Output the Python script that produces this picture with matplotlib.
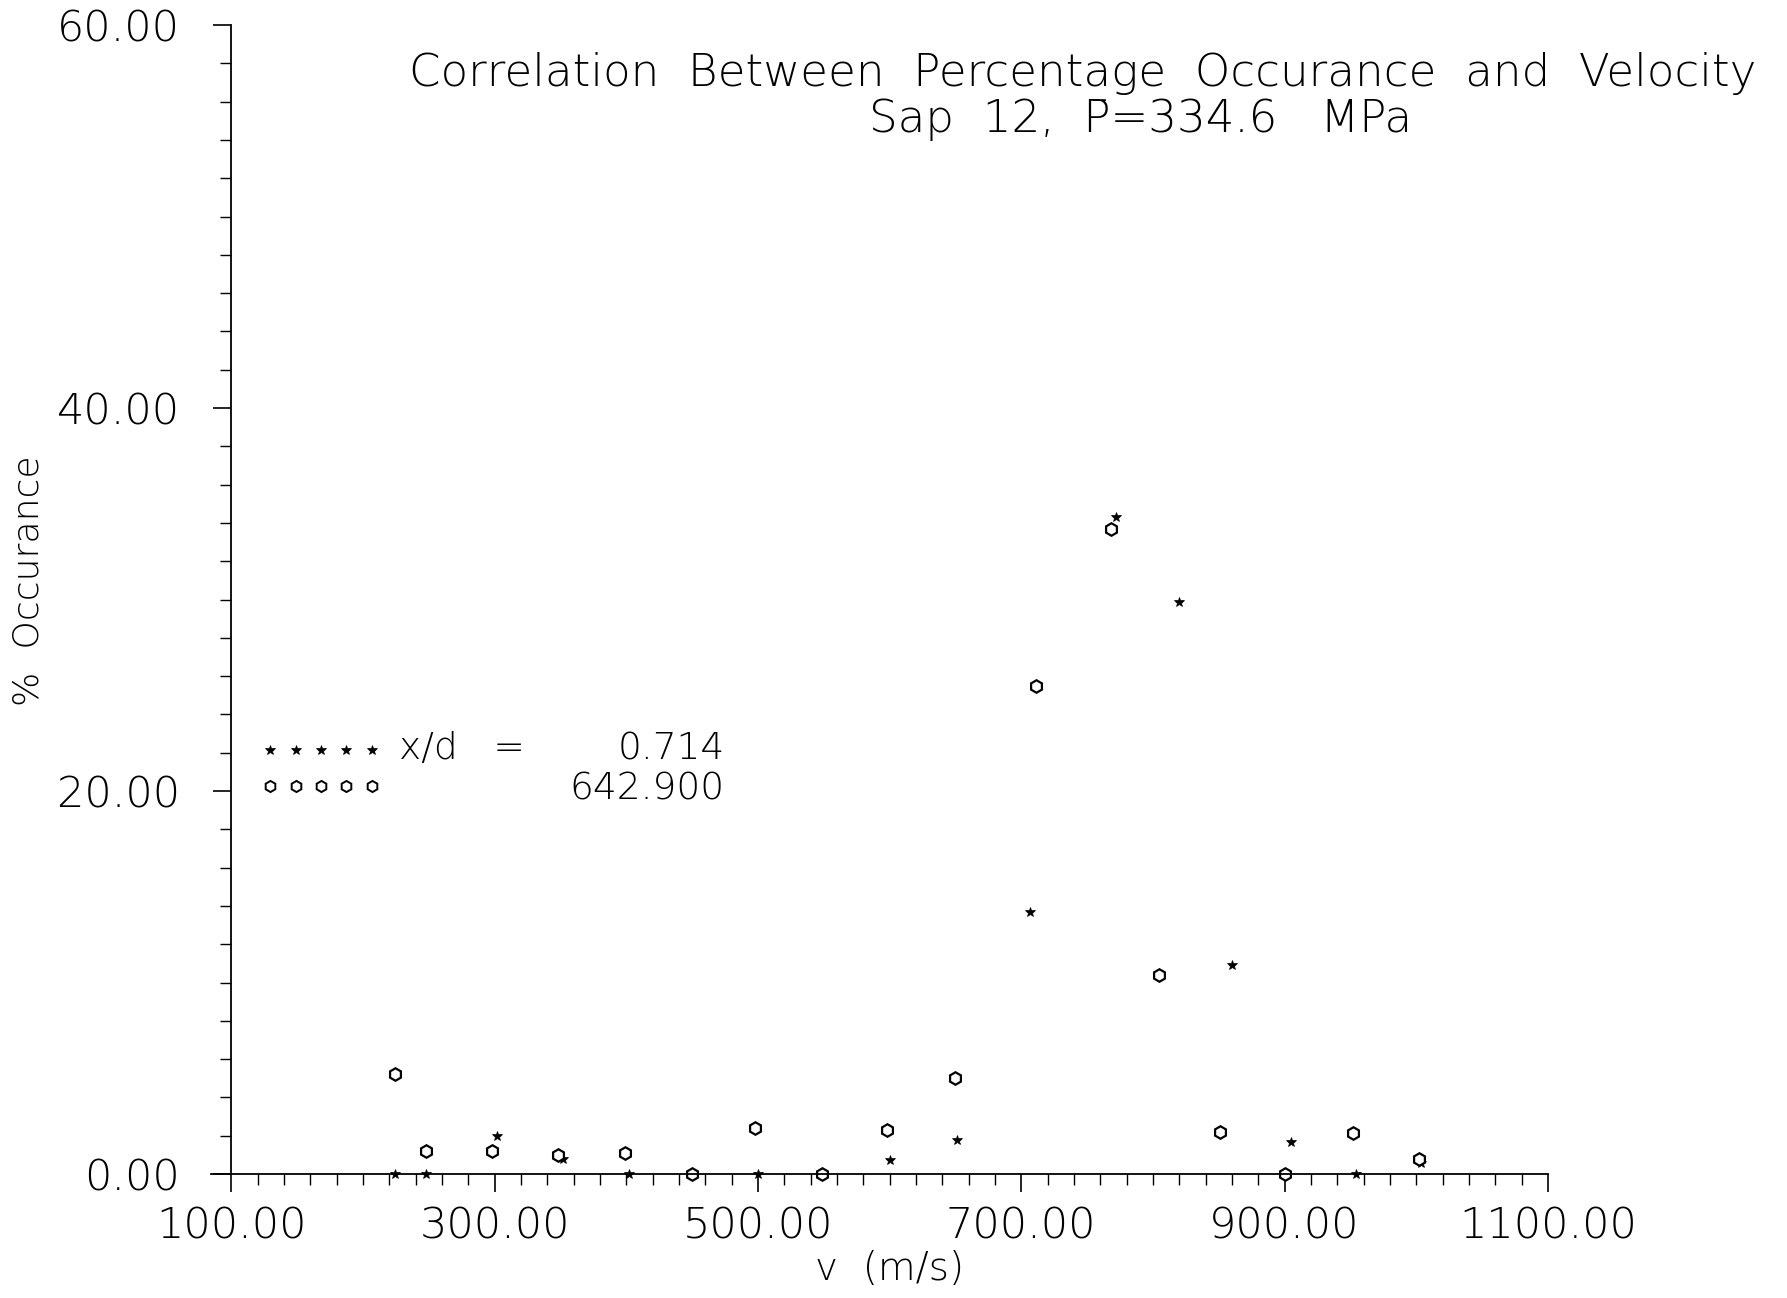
import matplotlib
matplotlib.use('Agg')
import matplotlib.pyplot as plt
from matplotlib.ticker import MultipleLocator, FormatStrFormatter
from matplotlib.lines import Line2D

plt.rcParams['font.family'] = 'DejaVu Sans'
plt.rcParams['font.weight'] = 200
plt.rcParams['axes.labelweight'] = 200

# velocity bins (m/s) and percentage occurrence for each run
v_xd = [224, 248, 302, 352, 402, 450, 500, 549, 600, 651, 707, 772, 820, 860, 905, 954, 1004]
occ_xd = [0, 0, 2.0, 0.8, 0, 0, 0, 0, 0.75, 1.8, 13.7, 34.3, 29.85, 10.9, 1.65, 0, 0.6]

v_far = [224, 248, 298, 348, 399, 450, 498, 549, 598, 650, 711, 768, 805, 851, 900, 952, 1002]
occ_far = [5.2, 1.2, 1.2, 1.0, 1.1, 0, 2.4, 0, 2.3, 5.0, 25.5, 33.7, 10.4, 2.2, 0, 2.15, 0.8]

xd_labels = ['0.714', '642.900']

fig = plt.figure(figsize=(17.87, 12.98), dpi=100)
ax = fig.add_axes([0.1294, 0.0955, 0.7368, 0.8852])

ax.plot(v_xd, occ_xd, ls='none', marker='*', ms=7.5, color='black', mew=0.5, clip_on=False)
ax.plot(v_far, occ_far, ls='none', marker='h', ms=9, mfc='white', mec='black', mew=1.6, clip_on=False)

ax.set_xlim(100, 1100)
ax.set_ylim(0, 60)

for s in ('top', 'right'):
    ax.spines[s].set_visible(False)
for s in ('left', 'bottom'):
    ax.spines[s].set_linewidth(1.3)
ax.spines['bottom'].set_bounds(85, 1100)

ax.xaxis.set_major_locator(MultipleLocator(200, offset=100))
ax.xaxis.set_minor_locator(MultipleLocator(20))
ax.yaxis.set_major_locator(MultipleLocator(20))
ax.yaxis.set_minor_locator(MultipleLocator(2))
ax.xaxis.set_major_formatter(FormatStrFormatter('%.2f'))
ax.yaxis.set_major_formatter(FormatStrFormatter('%.2f'))

ax.tick_params(which='major', direction='out', length=13, width=1.2, labelsize=31, color='black')
ax.tick_params(which='minor', direction='out', length=8, width=1.0, color='black')
ax.tick_params(axis='x', which='major', pad=10)
ax.tick_params(axis='y', which='major', pad=24)

ax.set_xlabel('v  (m/s)', fontsize=28, labelpad=2)
fig.text(0.0157, 0.5524, '%  Occurance', rotation=90, fontsize=26, ha='center', va='center')

fig.text(0.606, 0.943, 'Correlation  Between  Percentage  Occurance  and  Velocity',
         fontsize=32.5, ha='center', va='center')
fig.text(0.6385, 0.9076, 'Sap  12,  P\u0304=334.6   MPa', fontsize=32.5, ha='center', va='center')

# legend keys: five markers per run, labels written alongside
handles = [Line2D([], [], ls='none', marker='*', ms=7.5, color='black', mew=0.5),
           Line2D([], [], ls='none', marker='h', ms=8, mfc='white', mec='black', mew=1.4)]
ax.legend(handles, ['', ''], numpoints=5, loc='center left', bbox_to_anchor=(0.0243, 0.3525),
          frameon=False, fontsize=17, handlelength=4.9, handletextpad=0, labelspacing=0.5,
          borderpad=0, borderaxespad=0)
ax.text(0.1276, 0.370, 'x/d   =', transform=ax.transAxes, fontsize=27, ha='left', va='center')
ax.text(0.375, 0.370, xd_labels[0], transform=ax.transAxes, fontsize=27, ha='right', va='center')
ax.text(0.3744, 0.335, xd_labels[1], transform=ax.transAxes, fontsize=27, ha='right', va='center')

fig.savefig('out.png', dpi=100)
